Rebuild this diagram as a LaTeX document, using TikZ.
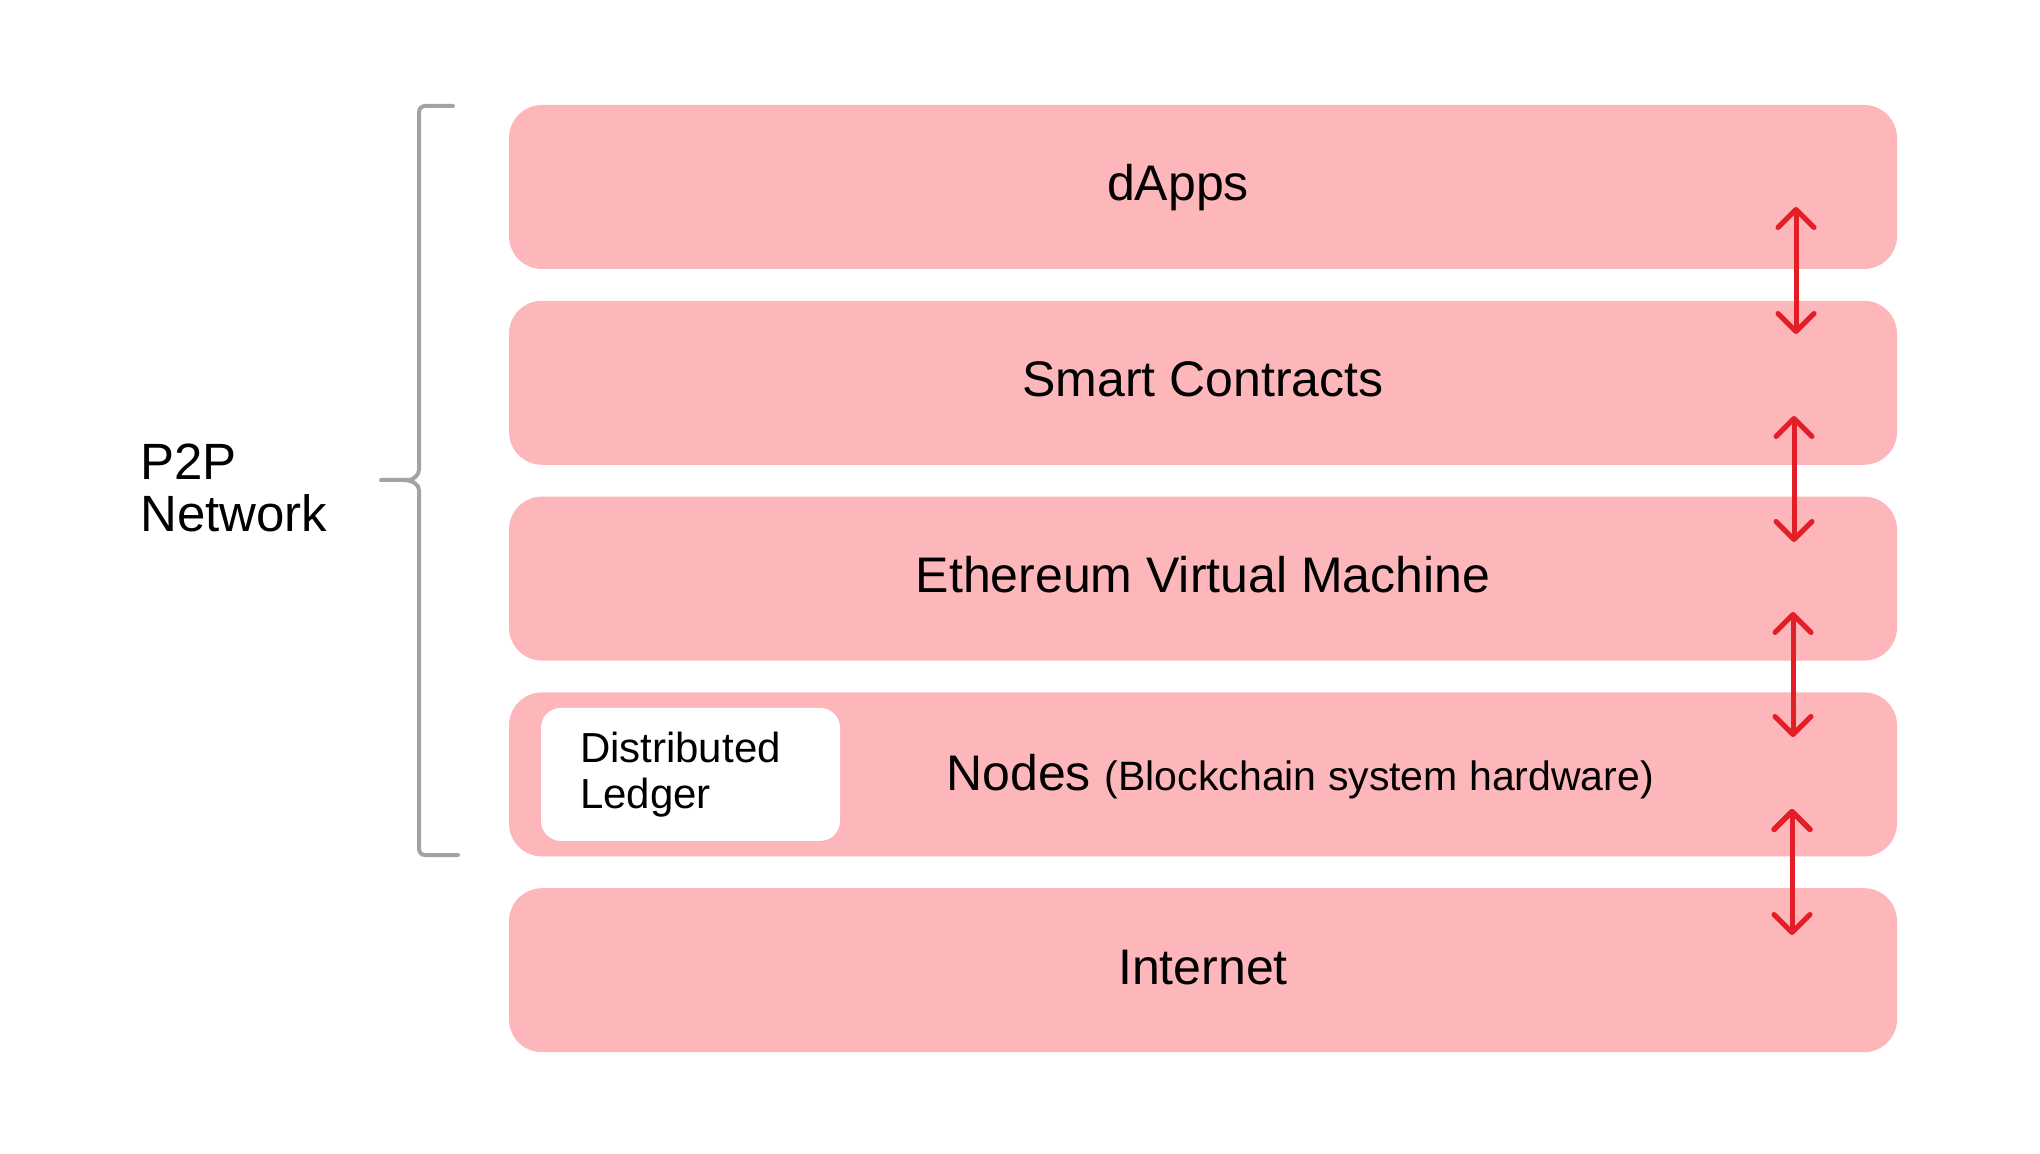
\documentclass[tikz,border=0pt]{standalone}
\usepackage{fontspec}
\setmainfont{Liberation Sans}
\usetikzlibrary{positioning,arrows.meta}
\definecolor{layerpink}{HTML}{FDB6B9}
\definecolor{arrowred}{HTML}{E31E26}
\definecolor{bracegray}{HTML}{A3A3A3}

\tikzset{
  layertext/.style={font=\fontsize{25}{30}\selectfont, text height=14pt, text depth=0pt, inner sep=0pt},
  layer/.style={layertext, fill=layerpink, rounded corners=16.5pt,
                minimum width=694pt, minimum height=82pt},
  ledger/.style={fill=white, rounded corners=10pt, align=left, text width=110.5pt,
                 inner xsep=19.5pt, inner ysep=0pt, minimum height=66.5pt,
                 font=\fontsize{21}{23}\selectfont},
  updown/.style={draw=arrowred, line width=2.5pt, line cap=round,
                 >={Straight Barb[length=9pt,width=18pt,round]}, <->},
  brace/.style={draw=bracegray, line width=2pt, line cap=round}
}

\begin{document}
\begin{tikzpicture}[x=0.5pt,y=-0.5pt,node distance=15.5pt]
  \useasboundingbox (0,0) rectangle (2040,1154);

  % the layers
  \node[layer]                 (dapps)    at (1203,187) {};
  \node[layer, below=of dapps] (smart)    {Smart Contracts};
  \node[layer, below=of smart] (evm)      {Ethereum Virtual Machine};
  \node[layer, below=of evm]   (nodes)    {};
  \node[layer, below=of nodes] (internet) {Internet};

  \node[layertext] (dappstext) at ([xshift=-12.5pt]dapps.center) {dApps};
  \node[ledger, right=16pt of nodes.west] (ledger) {Distributed\\Ledger};
  \node[layertext, anchor=base west, text height=, text depth=] (nodestext) at (946,790)
        {Nodes {\fontsize{20.5}{24}\selectfont (Blockchain system hardware)}};

  % P2P bracket
  \node[anchor=south west, align=left, inner sep=0pt, text depth=0pt,
        font=\fontsize{25.5}{26}\selectfont] (p2p) at (140,532) {P2P\\Network};
  \draw[brace, rounded corners=3pt]
        (453,106) -- (419,106) -- (419,464)
        .. controls (419,475) and (413,480) .. (403,480) -- (381,480)
        (403,480) .. controls (413,480) and (419,485) .. (419,496)
        -- (419,855) -- (458,855);

  % arrows between the layers
  \coordinate (up1) at (1796,207); \coordinate (dn1) at (1796,334);
  \coordinate (up2) at (1794,416); \coordinate (dn2) at (1794,542);
  \coordinate (up3) at (1793,612); \coordinate (dn3) at (1793,737);
  \coordinate (up4) at (1792,809); \coordinate (dn4) at (1792,935);

  \path[updown]
        (up1) edge (dn1)
        (up2) edge (dn2)
        (up3) edge (dn3)
        (up4) edge (dn4);
\end{tikzpicture}
\end{document}
